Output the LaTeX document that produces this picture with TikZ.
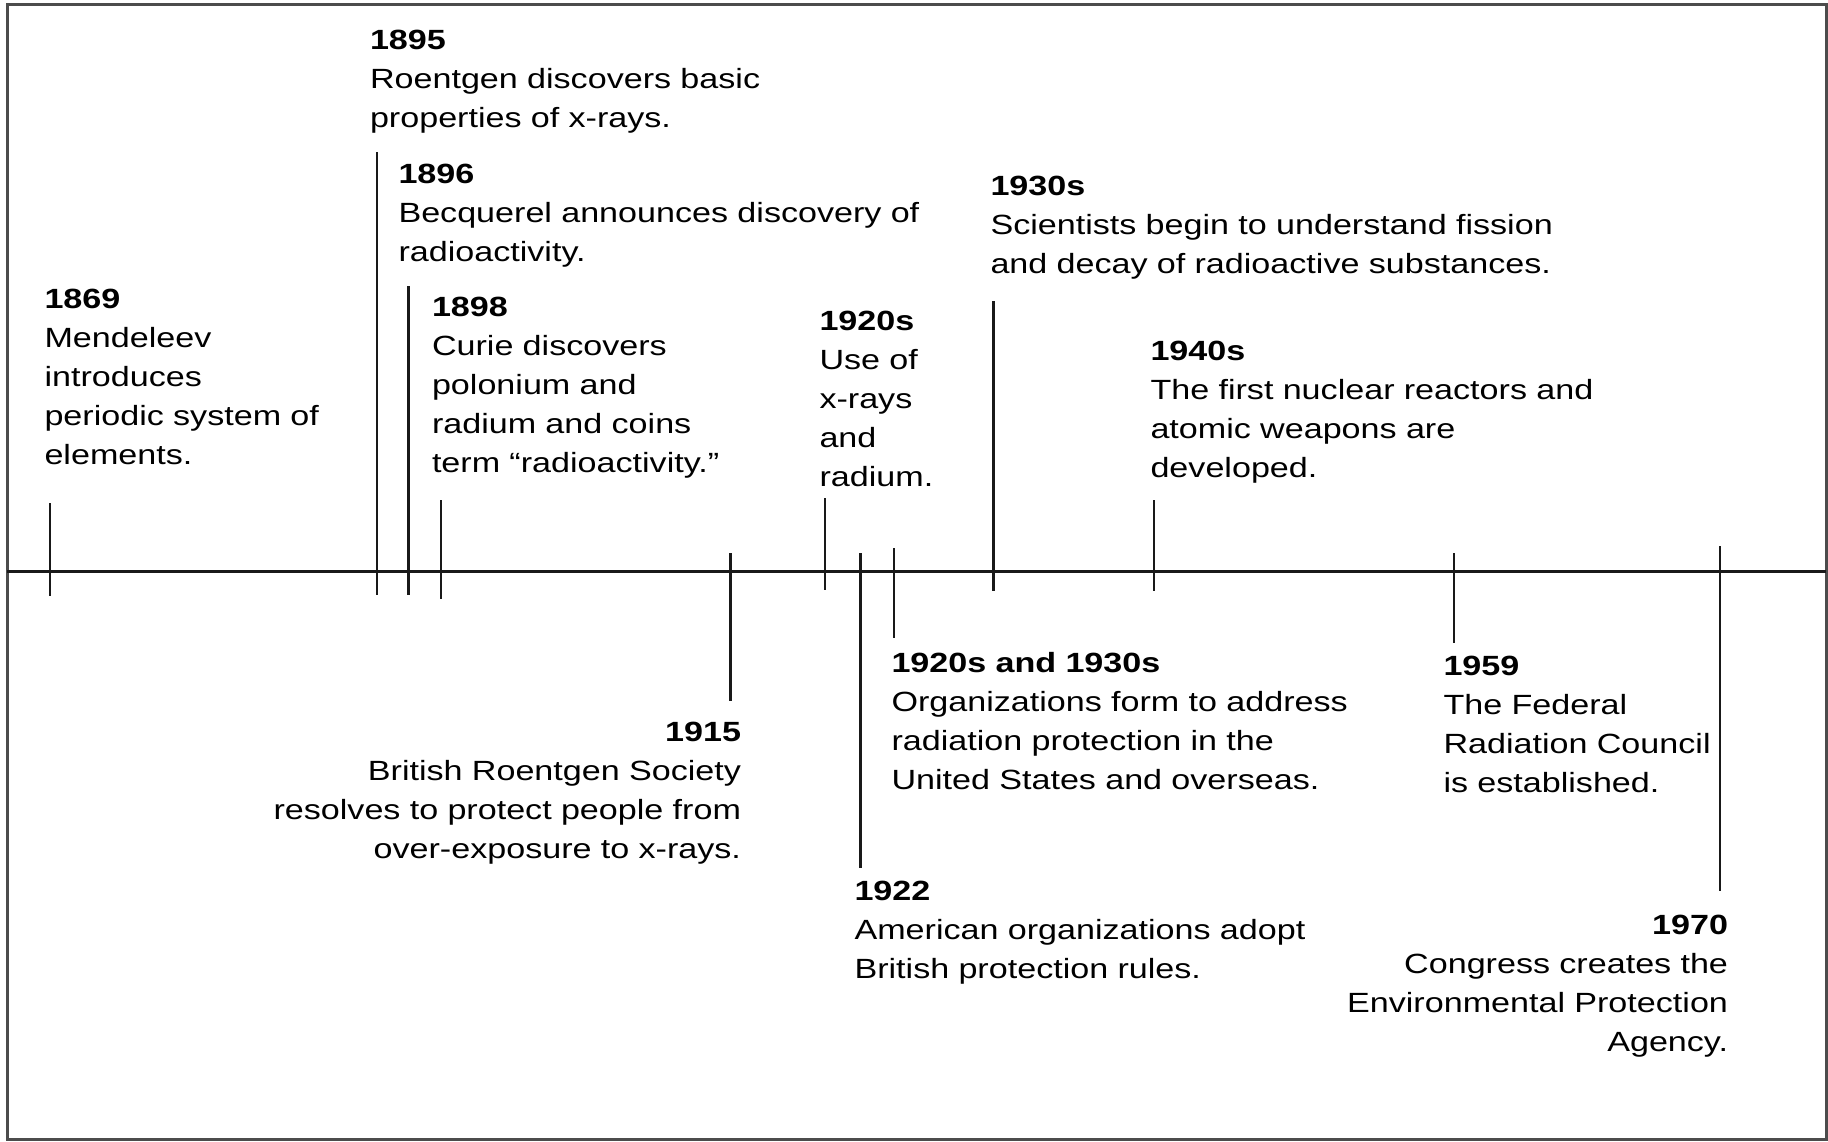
\documentclass[tikz,border=0pt]{standalone}
\usepackage{fontspec}
\setmainfont[FakeStretch=1.227]{Liberation Sans}
\newcommand\evfont{\fontsize{27.8}{39}\selectfont}
\tikzset{
  ev/.style={inner sep=0pt, outer sep=0pt, text width=640pt, align=left,
             anchor=base west, font=\evfont, text=black},
  evr/.style={ev, align=right, anchor=base east},
  tickline/.style={line width=2.4pt, draw=black!90},
  axisline/.style={line width=3pt, draw=black!90},
  framebox/.style={line width=3pt, draw=black!70}
}
\begin{document}
\begin{tikzpicture}[x=1pt,y=-1pt]
\useasboundingbox (0,0) rectangle (1828,1141);
\draw[framebox] (7,4) rectangle (1826,1139);
% axis
\coordinate (axL) at (7,571);
\coordinate (axR) at (1826,571);
\draw[axisline] (axL) -- (axR);

% events above
\node[ev] (e1869) at (44.5,308) {\textbf{1869}\\Mendeleev\\introduces\\periodic system of\\elements.};
\node[ev] (e1895) at (370,49) {\textbf{1895}\\Roentgen discovers basic\\properties of x-rays.};
\node[ev] (e1896) at (398.5,183) {\textbf{1896}\\Becquerel announces discovery of\\radioactivity.};
\node[ev] (e1898) at (432,316) {\textbf{1898}\\Curie discovers\\polonium and\\radium and coins\\term “radioactivity.”};
\node[ev] (e1920s) at (819.5,330) {\textbf{1920s}\\Use of\\x-rays\\and\\radium.};
\node[ev] (e1930s) at (990.5,195) {\textbf{1930s}\\Scientists begin to understand fission\\and decay of radioactive substances.};
\node[ev] (e1940s) at (1150.5,360) {\textbf{1940s}\\The first nuclear reactors and\\atomic weapons are\\developed.};

% events below
\node[evr] (e1915) at (741,741) {\textbf{1915}\\British Roentgen Society\\resolves to protect people from\\over-exposure to x-rays.};
\node[ev] (e2030) at (891.5,672) {\textbf{1920s and 1930s}\\Organizations form to address\\radiation protection in the\\United States and overseas.};
\node[ev] (e1922) at (854.5,900) {\textbf{1922}\\American organizations adopt\\British protection rules.};
\node[ev] (e1959) at (1443.5,675) {\textbf{1959}\\The Federal\\Radiation Council\\is established.};
\node[evr] (e1970) at (1728,934.5) {\textbf{1970}\\Congress creates the\\Environmental Protection\\Agency.};

% ticks
\coordinate (k1869t) at (50,503);    \coordinate (k1869b) at (50,596);
\coordinate (k1895t) at (377,152);   \coordinate (k1895b) at (377,595);
\coordinate (k1896t) at (408.5,286); \coordinate (k1896b) at (408.5,595);
\coordinate (k1898t) at (441,500);   \coordinate (k1898b) at (441,599);
\coordinate (k1915t) at (730.5,553); \coordinate (k1915b) at (730.5,701);
\coordinate (k1920t) at (825,498);   \coordinate (k1920b) at (825,590);
\coordinate (k1922t) at (860.5,553); \coordinate (k1922b) at (860.5,868);
\coordinate (k2030t) at (894,548);   \coordinate (k2030b) at (894,638);
\coordinate (k1930t) at (993.5,301); \coordinate (k1930b) at (993.5,591);
\coordinate (k1940t) at (1154,500);  \coordinate (k1940b) at (1154,591);
\coordinate (k1959t) at (1454,553);  \coordinate (k1959b) at (1454,643);
\coordinate (k1970t) at (1720,546);  \coordinate (k1970b) at (1720,891);
\foreach \k in {1869,1895,1896,1898,1915,1920,1922,2030,1930,1940,1959,1970}
  \draw[tickline] (k\k t) -- (k\k b);
\end{tikzpicture}
\end{document}
